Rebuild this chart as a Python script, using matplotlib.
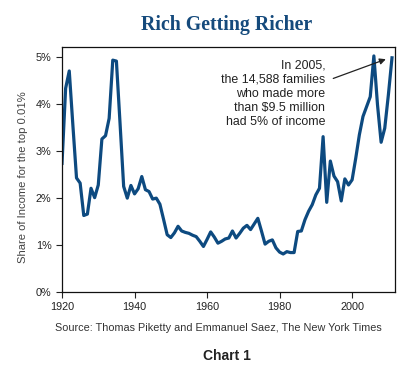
import numpy as np
import matplotlib
matplotlib.use('Agg')
import matplotlib.pyplot as plt

# share of income for the top 0.01%
years = list(range(1920, 2012))
share = [2.74, 4.34, 4.71, 3.55, 2.43, 2.32, 1.63, 1.66, 2.21, 2.01,
         2.28, 3.26, 3.33, 3.70, 4.94, 4.92, 3.60, 2.25, 2.00, 2.27,
         2.09, 2.20, 2.46, 2.18, 2.14, 1.98, 2.00, 1.87, 1.55, 1.22,
         1.16, 1.26, 1.40, 1.30, 1.27, 1.25, 1.21, 1.18, 1.08, 0.97,
         1.12, 1.28, 1.17, 1.04, 1.08, 1.13, 1.15, 1.30, 1.15, 1.25,
         1.36, 1.42, 1.33, 1.45, 1.57, 1.30, 1.02, 1.08, 1.11, 0.94,
         0.85, 0.81, 0.86, 0.84, 0.84, 1.29, 1.30, 1.54, 1.72, 1.86,
         2.07, 2.21, 3.31, 1.91, 2.79, 2.47, 2.35, 1.94, 2.41, 2.28,
         2.39, 2.85, 3.35, 3.74, 3.95, 4.16, 5.03, 3.99, 3.19, 3.49,
         4.20, 4.99]

yticks = [0, 1, 2, 3, 4, 5]
ytick_labels = ['0%', '1%', '2%', '3%', '4%', '5%']
xticks = [1920, 1940, 1960, 1980, 2000]

note = 'In 2005,\nthe 14,588 families\nwho made more\nthan $9.5 million\nhad 5% of income'

plt.rcParams['font.family'] = ['Liberation Sans', 'DejaVu Sans']

fig = plt.figure(figsize=(4.12, 3.80), dpi=100)
ax = fig.add_axes([0.1505, 0.2316, 0.808, 0.6447])

ax.plot(years, share, color='#0d4a80', lw=2.3, solid_joinstyle='round')

ax.set_xlim(1920, 2011.8)
ax.set_ylim(0, 5.22)
ax.set_xticks(xticks)
ax.set_yticks(yticks)
ax.set_yticklabels(ytick_labels)
ax.tick_params(direction='out', length=4, width=0.8, labelsize=7.8,
               colors='#222222', pad=3.5)
for s in ax.spines.values():
    s.set_linewidth(0.9)
    s.set_color('#111111')

ax.set_ylabel('Share of Income for the top 0.01%', fontsize=8.1,
              color='#444444')
ax.yaxis.set_label_coords(-0.103, 0.47)

ax.text(1992.6, 4.22, note, ha='right', va='center', fontsize=8.9,
        color='#222222', linespacing=1.22)
ax.annotate('', xy=(2009.3, 4.96), xytext=(1994.8, 4.55),
            arrowprops=dict(arrowstyle='-|>', color='#222222', lw=0.9,
                            mutation_scale=9, shrinkA=0, shrinkB=0))

fig.text(0.549, 0.934, 'Rich Getting Richer', ha='center', va='center',
         fontsize=14.3, fontweight='bold', color='#154a7c',
         family='Liberation Serif')
fig.text(0.529, 0.137, 'Source: Thomas Piketty and Emmanuel Saez, The New York Times',
         ha='center', va='center', fontsize=7.8, color='#333333')
fig.text(0.551, 0.063, 'Chart 1', ha='center', va='center', fontsize=10,
         fontweight='bold', color='#222222')

plt.savefig('out.png', dpi=100)
